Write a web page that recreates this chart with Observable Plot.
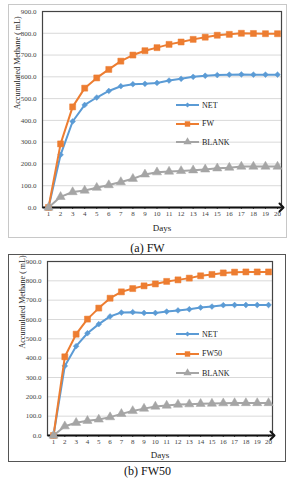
<!DOCTYPE html>
<html><head><meta charset="utf-8">
<script src="https://cdn.jsdelivr.net/npm/d3@7"></script>
<script src="https://cdn.jsdelivr.net/npm/@observablehq/plot@0.6"></script>
<style>
body{margin:0;background:#fff;width:295px;height:480px;position:relative;overflow:hidden;font-family:"Liberation Serif",serif;}
.box{position:absolute;box-sizing:border-box;}
.chart{position:absolute;left:0;}
.cap{position:absolute;left:0;width:295px;text-align:center;font-size:12px;color:#111;line-height:14px;}
.leg{position:absolute;font-size:8px;color:#222;display:flex;align-items:center;height:10px;}
.leg svg{margin-right:3px;}
</style></head><body>
<script>
// ---- data ----
const days = [1,2,3,4,5,6,7,8,9,10,11,12,13,14,15,16,17,18,19,20];
const yTicks = [0,100,200,300,400,500,600,700,800,900];

const fwNet   = [0,242,395,471,505,535,557,566,568,572,583,591,600,605,608,610,611,610,610,610];
const fwFW    = [0,292,462,548,595,634,672,700,720,734,749,760,772,782,791,795,800,799,798,798];
const fwBlank = [0,49,71,78,91,103,117,132,152,162,165,168,171,175,180,183,188,188,188,188];

const fw50Net   = [0,360,462,529,576,616,636,638,634,634,641,647,653,662,667,674,675,675,675,675];
const fw50FW50  = [0,407,524,602,659,710,743,760,774,784,797,805,814,826,833,841,845,846,846,846];
const fw50Blank = [0,48,66,76,83,95,112,127,139,150,155,160,162,164,165,167,168,168,168,168];

const seriesNames1 = ["NET","FW","BLANK"];
const seriesNames2 = ["NET","FW50","BLANK"];
const colors = ["#5B9BD5","#ED7D31","#A5A5A5"];
const symbols = ["diamond2","square","triangle"];
const radii = [2.6,3.4,3.4];

function makeChart(values, names, L){
  const marks = [
    Plot.gridY(yTicks.filter(v => v > 0 && v < 900), {stroke:"#d9d9d9", strokeOpacity:1}),
    Plot.axisY(yTicks, {tickSize:0, tickPadding:L.tickPadY, tickFormat:d => d.toFixed(1), fontSize:7, color:"#444", label:null}),
    Plot.axisX(days, {tickSize:2, tickPadding:2, tickFormat:d => String(d), fontSize:7, color:"#444", label:null}),
    Plot.frame({stroke:"#444", strokeWidth:1.2}),
    Plot.link([0], {x1:L.xDomain[0], x2:L.xDomain[1], y1:0, y2:0, stroke:"#111", strokeWidth:2, markerEnd:"arrow"}),
  ];
  values.forEach((vals, i) => {
    const data = days.map((d, j) => ({day:d, v:vals[j]}));
    marks.push(Plot.line(data, {x:"day", y:"v", stroke:colors[i], strokeWidth:2}));
    marks.push(Plot.dot(data, {x:"day", y:"v", symbol:() => symbols[i], r:radii[i], fill:colors[i], stroke:colors[i], strokeWidth:0.5}));
  });
  marks.push(Plot.text(["Days"], {frameAnchor:"bottom", lineAnchor:"middle", dy:L.daysDy, fontSize:9, fill:"#222"}));
  marks.push(Plot.text(["Accumulated Methane ( mL)"], {frameAnchor:"left", rotate:-90, dx:L.ylabDx, fontSize:8, fill:"#222"}));
  return Plot.plot({
    width:295, height:L.height,
    marginLeft:L.ml, marginRight:L.mr, marginTop:L.mt, marginBottom:L.mb,
    style:{fontFamily:"Liberation Serif, serif", background:"transparent", overflow:"visible"},
    x:{domain:L.xDomain},
    y:{domain:[0,900]},
    symbol:{type:"identity"},
    marks
  });
}

function legend(names, left, top, gap){
  names.forEach((n, i) => {
    const div = document.createElement("div");
    div.className = "leg";
    div.style.left = left + "px";
    div.style.top = (top + i*gap - 5) + "px";
    const svg = d3.create("svg").attr("width",23).attr("height",10);
    svg.append("line").attr("x1",0).attr("x2",23).attr("y1",5).attr("y2",5).attr("stroke",colors[i]).attr("stroke-width",2);
    const symMap = {diamond2:d3.symbolDiamond2, square:d3.symbolSquare, triangle:d3.symbolTriangle};
    svg.append("path").attr("transform","translate(11.5,5)")
      .attr("d", d3.symbol(symMap[symbols[i]], Math.PI*radii[i]*radii[i]*0.8)())
      .attr("fill",colors[i]);
    div.appendChild(svg.node());
    div.appendChild(document.createTextNode(n));
    document.body.appendChild(div);
  });
}

function addBox(l,t,w,h,border){
  const b = document.createElement("div");
  b.className = "box";
  Object.assign(b.style,{left:l+"px",top:t+"px",width:w+"px",height:h+"px",border:border});
  document.body.appendChild(b);
}
function addCap(text, top){
  const c = document.createElement("div");
  c.className = "cap"; c.style.top = top + "px"; c.textContent = text;
  document.body.appendChild(c);
}

// chart (a)
addBox(8,4,279,234,"1px solid #c8c8c8");
const c1 = makeChart([fwNet, fwFW, fwBlank], seriesNames1,
  {height:238, ml:42, mr:14, mt:11, mb:31, xDomain:[0.5,20.33], tickPadY:6, daysDy:21, ylabDx:-25});
c1.classList.add("chart"); c1.style.top = "0px";
document.body.appendChild(c1);
legend(seriesNames1, 176, 105, 18.5);
addCap("(a) FW", 241);

// chart (b)
addBox(8,254,278,208,"1.5px solid #555");
const c2 = makeChart([fw50Net, fw50FW50, fw50Blank], seriesNames2,
  {height:213, ml:47, mr:23, mt:11, mb:28, xDomain:[0.47,20.35], tickPadY:6, daysDy:20, ylabDx:-25});
c2.classList.add("chart"); c2.style.top = "250px";
document.body.appendChild(c2);
legend(seriesNames2, 176, 334, 19.5);
addCap("(b) FW50", 464);
</script>
</body></html>
